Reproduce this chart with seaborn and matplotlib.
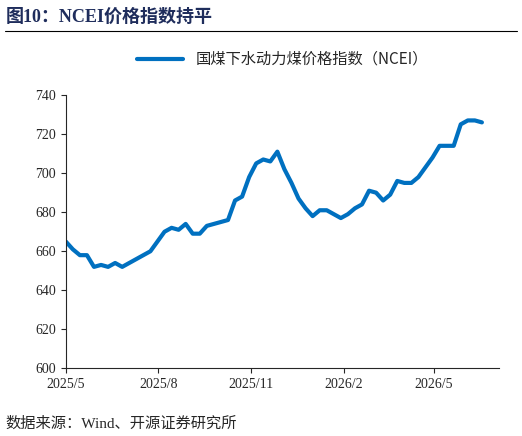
import matplotlib
matplotlib.use("Agg")
import matplotlib.pyplot as plt
import seaborn as sns
import pandas as pd

values = [665,661,658,658,652,653,652,654,652,654,656,658,660,665,670,672,671,674,669,669,673,674,675,676,686,688,698,705,707,706,711,702,695,687,682,678,681,681,679,677,679,682,684,691,690,686,689,696,695,695,698,703,708,714,714,714,725,727,727,726]
dates = pd.date_range("2025-05-01", periods=len(values), freq="7D")
df = pd.DataFrame({"date": dates, "NCEI": values})
tick_dates = pd.to_datetime(["2025-05-01","2025-08-01","2025-11-01","2026-02-01","2026-05-01"])
tick_labels = ["2025/5","2025/8","2025/11","2026/2","2026/5"]

sns.set_style("ticks")
plt.rcParams['font.family'] = ['Noto Sans CJK SC', 'DejaVu Sans']
fig = plt.figure(figsize=(5.22, 4.36), dpi=100)
ax = fig.add_axes([0.126, 0.155, 0.83, 0.627])
sns.lineplot(data=df, x="date", y="NCEI", ax=ax, color="#0070C0", linewidth=3, label="国煤下水动力煤价格指数（NCEI）")
ax.set_ylim(600, 740)
ax.set_yticks(range(600, 741, 20))
ax.set_xlim(pd.Timestamp("2025-05-01"), pd.Timestamp("2026-07-05"))
ax.set_xticks(tick_dates)
ax.set_xticklabels(tick_labels)
for lab in ax.get_xticklabels() + ax.get_yticklabels():
    lab.set_fontfamily("Liberation Serif")
    lab.set_fontsize(10)
ax.set_xlabel("")
ax.set_ylabel("")
sns.despine(ax=ax)
ax.legend(loc="center", bbox_to_anchor=(0.5, 1.13), frameon=False, fontsize=11, handlelength=3)
fig.text(0.01, 0.95, "图10：NCEI价格指数持平", color="#1F2D5C", fontsize=13, fontweight="bold",
         family=["Liberation Serif", "Noto Sans CJK SC"])
fig.add_artist(plt.Line2D([0.01, 0.99], [0.928, 0.928], color="black", linewidth=0.8))
fig.text(0.01, 0.02, "数据来源：Wind、开源证券研究所", fontsize=11,
         family=["Liberation Serif", "Noto Sans CJK SC"])
fig.savefig("out.png", dpi=100)
